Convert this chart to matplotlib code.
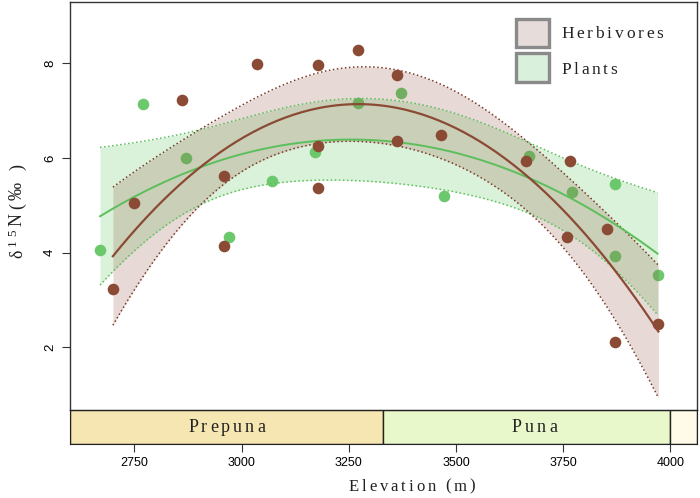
import numpy as np
import matplotlib
matplotlib.use('Agg')
import matplotlib.pyplot as plt
from matplotlib.patches import Rectangle
from matplotlib.font_manager import findfont, FontProperties
from matplotlib.ft2font import FT2Font

# ---- data ----
herb_x = [2700, 2750, 2862, 2960, 2960, 3036, 3178, 3178, 3178, 3271,
          3362, 3362, 3464, 3663, 3765, 3760, 3851, 3870, 3972]
herb_y = [3.23, 5.05, 7.23, 5.61, 4.14, 7.99, 7.96, 6.26, 5.37, 8.28,
          7.75, 6.36, 6.49, 5.94, 5.94, 4.33, 4.50, 2.11, 2.49]
plant_x = [2670, 2770, 2870, 2970, 3070, 3171, 3271, 3371, 3471, 3671,
           3771, 3870, 3870, 3970]
plant_y = [4.06, 7.14, 5.99, 4.32, 5.51, 6.12, 7.16, 7.37, 5.20, 6.05,
           5.29, 5.44, 3.92, 3.53]
zones = ['Prepuna', 'Puna', '']
zone_edges = [2600, 3330, 4000, 4062]
zone_label_x = [2965, 3683]
xticks = [2750, 3000, 3250, 3500, 3750, 4000]
yticks = [2, 4, 6, 8]
legend_labels = ['Herbivores', 'Plants']

BROWN = '#8b4a33'
GREEN = '#6cc86c'
GREEN_LINE = '#5cbf5c'
SERIF = 'Liberation Serif'
W, H = 700, 498


def quad_fit(x, y, tval):
    x = np.asarray(x, float)
    y = np.asarray(y, float)
    xc = (x - 3300.0) / 1000.0
    X = np.column_stack([np.ones_like(xc), xc, xc ** 2])
    beta, *_ = np.linalg.lstsq(X, y, rcond=None)
    resid = y - X @ beta
    s2 = resid @ resid / (len(y) - 3)
    cov = s2 * np.linalg.inv(X.T @ X)
    xs = np.linspace(x.min(), x.max(), 200)
    xsc = (xs - 3300.0) / 1000.0
    Xs = np.column_stack([np.ones_like(xsc), xsc, xsc ** 2])
    yhat = Xs @ beta
    se = np.sqrt(np.einsum('ij,jk,ik->i', Xs, cov, Xs))
    return xs, yhat, yhat - tval * se, yhat + tval * se


_fonts = {}


def advance(ch, size, family=SERIF):
    key = (family, size)
    if key not in _fonts:
        f = FT2Font(findfont(FontProperties(family=family)))
        f.set_size(size, 100)
        _fonts[key] = f
    f = _fonts[key]
    g = f.load_char(ord(ch))
    return g.linearHoriAdvance / 65536.0


def tracked(fig, x, y, segments, track, ha='left', rotation=0, color='#222222'):
    """segments: list of (text, fontsize, baseline_offset_px). x,y in pixels (bottom origin)."""
    chars = []
    for txt, size, off in segments:
        for ch in txt:
            chars.append((ch, size, off, advance(ch, size)))
    total = sum(c[3] for c in chars) + track * (len(chars) - 1)
    pos = 0.0
    if ha == 'center':
        pos = -total / 2
    for ch, size, off, adv in chars:
        if ch != ' ':
            if rotation == 0:
                px, py = x + pos, y + off
            else:
                px, py = x - off, y + pos
            fig.text(px / W, py / H, ch, family=SERIF, fontsize=size,
                     ha='left', va='baseline', rotation=rotation,
                     rotation_mode='anchor', color=color)
        pos += adv + track


fig = plt.figure(figsize=(7.0, 4.98), dpi=100)
ax = fig.add_axes([0.1, 0.1767, 0.8957, 0.8193])
axb = fig.add_axes([0.1, 0.1084, 0.8957, 0.0683])

hx, hy, hlo, hhi = quad_fit(herb_x, herb_y, 2.0)
px, py, plo, phi = quad_fit(plant_x, plant_y, 2.0)

ax.scatter(plant_x, plant_y, s=70, color=GREEN, zorder=1, linewidths=0)
ax.fill_between(px, plo, phi, color=GREEN, alpha=0.25, linewidth=0, zorder=2)
ax.fill_between(hx, hlo, hhi, color=BROWN, alpha=0.2, linewidth=0, zorder=2)
ax.plot(px, plo, ls=':', color=GREEN_LINE, lw=1.1, zorder=3)
ax.plot(px, phi, ls=':', color=GREEN_LINE, lw=1.1, zorder=3)
ax.plot(hx, hlo, ls=':', color='#7a3a2a', lw=1.1, zorder=3)
ax.plot(hx, hhi, ls=':', color='#7a3a2a', lw=1.1, zorder=3)
ax.plot(px, py, color=GREEN_LINE, lw=1.4, zorder=3)
ax.plot(hx, hy, color=BROWN, lw=1.6, zorder=3)
ax.scatter(herb_x, herb_y, s=70, color=BROWN, zorder=4, linewidths=0)

ax.set_xlim(zone_edges[0], zone_edges[-1])
ax.set_ylim(0.67, 9.3)
ax.set_xticks([])
ax.set_yticks(yticks)
ax.set_yticklabels([str(t) for t in yticks], rotation=90, va='center',
                   family='Liberation Sans', fontsize=9.5)
ax.tick_params(axis='y', length=6, width=0.8, color='#333333', pad=4)
for sp in ax.spines.values():
    sp.set_color('#333333')
    sp.set_linewidth(1.0)

# y label: delta^15 N (permil), rotated, tracked
tracked(fig, 22, 240, [('δ', 13, 0), ('15', 9.5, 6), ('N(‰ )', 13, 0)],
        track=3.5, rotation=90)

# legend (manual boxes)
leg_fc = ['#e6dcd9', '#d9f0dc']
leg_box_y = [(19, 47), (53, 82)]
leg_base = [459.7, 424.0]
for label, fc, (yt, yb), base in zip(legend_labels, leg_fc, leg_box_y, leg_base):
    fig.patches.append(Rectangle((516 / W, (H - yb) / H), 33 / W, (yb - yt) / H,
                                 transform=fig.transFigure, facecolor=fc,
                                 edgecolor='#8a8a8a', linewidth=2.4, zorder=5))
    tracked(fig, 561, base, [(label, 12.5, 0)], track=2.8)

# zone band
zone_colors = ['#f6e7b2', '#e8f8cb', '#fffbe8']
for i, name in enumerate(zones):
    axb.add_patch(Rectangle((zone_edges[i], 0), zone_edges[i + 1] - zone_edges[i], 1,
                            facecolor=zone_colors[i], edgecolor='#222222', lw=1.0))
axb.set_xlim(zone_edges[0], zone_edges[-1])
axb.set_ylim(0, 1)
axb.set_yticks([])
axb.set_xticks(xticks)
axb.set_xticklabels([str(t) for t in xticks], family='Liberation Sans', fontsize=9)
axb.tick_params(axis='x', length=6, width=0.8, color='#333333', pad=3)
for sp in axb.spines.values():
    sp.set_color('#222222')

fig.canvas.draw()
for name, xd in zip(zones, zone_label_x):
    xpix = axb.transData.transform((xd, 0))[0]
    tracked(fig, xpix, 65.7, [(name, 13, 0)], track=3.0, ha='center')

tracked(fig, 412, 7.5, [('Elevation (m)', 12, 0)], track=2.9, ha='center')

fig.savefig('out.png', dpi=100)
